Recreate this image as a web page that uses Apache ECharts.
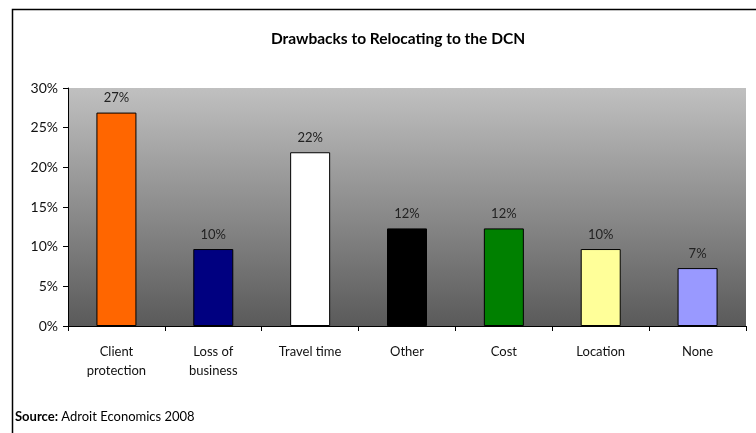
<!DOCTYPE html>
<html>
<head>
<meta charset="utf-8">
<script src="https://cdn.jsdelivr.net/npm/echarts@6/dist/echarts.min.js"></script>
<style>
  html, body { margin: 0; padding: 0; background: #fff; }
  #chart { width: 756px; height: 433px; }
</style>
</head>
<body>
<div id="chart"></div>
<script>
// Survey responses: share of respondents citing each drawback
const categories = ['Client\nprotection', 'Loss of\nbusiness', 'Travel time', 'Other', 'Cost', 'Location', 'None'];
const shares = [0.269, 0.097, 0.219, 0.123, 0.123, 0.097, 0.073];
const barColors = ['#ff6600', '#000080', '#ffffff', '#000000', '#008000', '#ffff99', '#9999ff'];
const yTicks = { min: 0, max: 0.30, interval: 0.05 };

const FONT = 'Lato, "Open Sans", sans-serif';

const chart = echarts.init(document.getElementById('chart'), null, { renderer: 'canvas' });

chart.setOption({
  animation: false,
  backgroundColor: '#ffffff',
  title: {
    text: 'Drawbacks to Relocating to the DCN',
    left: 393,
    top: 26,
    textAlign: 'center',
    textStyle: { fontFamily: FONT, fontSize: 15.5, fontWeight: 'bold', color: '#000' }
  },
  grid: {
    left: 68, top: 88, right: 10, bottom: 107,
    show: true,
    borderWidth: 0,
    backgroundColor: new echarts.graphic.LinearGradient(0, 0, 0, 1, [
      { offset: 0, color: '#c0c0c0' },
      { offset: 1, color: '#5a5a5a' }
    ])
  },
  xAxis: {
    type: 'category',
    data: categories,
    axisLine: { lineStyle: { color: '#000', width: 1 } },
    axisTick: { show: true, length: 5, lineStyle: { color: '#000' } },
    axisLabel: {
      interval: 0, margin: 16, color: '#111',
      fontFamily: FONT, fontSize: 13, lineHeight: 19
    },
    splitLine: { show: false }
  },
  yAxis: {
    type: 'value',
    min: yTicks.min, max: yTicks.max, interval: yTicks.interval,
    axisLine: { show: true, lineStyle: { color: '#000', width: 1 } },
    axisTick: { show: true, length: 5, lineStyle: { color: '#000' } },
    axisLabel: {
      margin: 10, color: '#111', fontFamily: FONT, fontSize: 14,
      formatter: v => Math.round(v * 100) + '%'
    },
    splitLine: { show: false }
  },
  series: [{
    type: 'bar',
    barWidth: 40,
    data: shares.map((v, i) => ({
      value: v,
      itemStyle: { color: barColors[i], borderColor: '#000', borderWidth: 1 }
    })),
    label: {
      show: true, position: 'top', distance: 8,
      color: '#222', fontFamily: FONT, fontSize: 13,
      formatter: p => Math.round(p.value * 100) + '%'
    }
  }],
  graphic: [
    {
      type: 'rect',
      shape: { x: 12.5, y: 9.5, width: 760, height: 440 },
      style: { fill: 'none', stroke: '#000', lineWidth: 1.5 },
      silent: true
    },
    {
      type: 'text',
      left: 15, top: 410,
      style: {
        text: '{b|Source:} Adroit Economics 2008',
        rich: {
          b: { fontFamily: FONT, fontSize: 13, fontWeight: 'bold', fill: '#000' }
        },
        fontFamily: FONT, fontSize: 13, fill: '#000'
      }
    }
  ]
});
</script>
</body>
</html>
